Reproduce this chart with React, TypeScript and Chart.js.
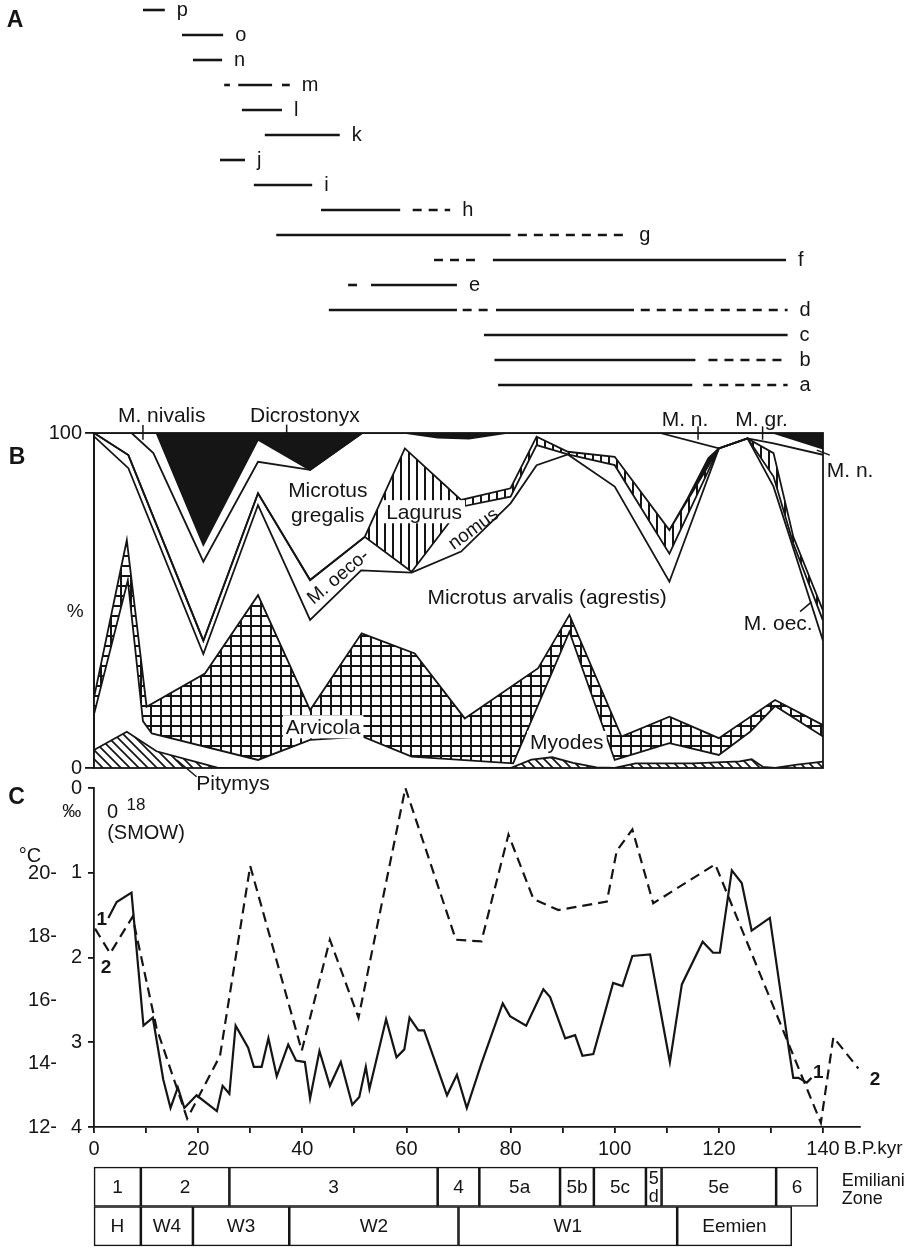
import React, { useEffect, useRef } from 'react';
import { Chart, registerables } from 'chart.js';

Chart.register(...registerables);

const INK = '#151515';
const FONT = '"Liberation Sans", Arial, Helvetica, sans-serif';
Chart.defaults.font.family = FONT;
Chart.defaults.color = INK;

// ================= Panel A : stratigraphic ranges (kyr B.P.) =================
const rangeTaxa = ['p', 'o', 'n', 'm', 'l', 'k', 'j', 'i', 'h', 'g', 'f', 'e', 'd', 'c', 'b', 'a'];
const rangeSolid: number[][][] = [
  [[9.4, 13.6]],
  [[16.9, 24.8]],
  [[19.0, 24.6]],
  [[27.7, 34.2]],
  [[28.4, 36.1]],
  [[32.8, 47.2]],
  [[24.2, 29.0]],
  [[30.7, 41.9]],
  [[43.6, 58.8]],
  [[35.0, 80.0]],
  [[76.6, 132.9]],
  [[53.2, 69.7]],
  [[45.1, 69.7], [77.2, 103.7]],
  [[74.9, 133.2]],
  [[76.9, 115.5]],
  [[77.6, 114.9]],
];
const rangeDashed: number[][][] = [
  [], [], [],
  [[25.0, 26.1], [36.1, 37.6]],
  [], [], [], [],
  [[61.2, 68.4]],
  [[81.4, 102.4]],
  [[65.3, 74.5]],
  [[48.8, 50.5]],
  [[70.8, 75.9], [105.0, 133.2]],
  [],
  [[118.0, 133.2]],
  [[117.0, 133.2]],
];

// ================= Panel B : cumulative percentage boundaries =================
const smallVoleAge = [0, 6.3, 12, 21, 24, 80, 84, 88, 92, 96.5, 100, 104, 115, 124, 126.3, 128.5, 130.8, 135, 140];
const smallVoleTop = [5.4, 10.8, 5, 1.2, 0, 0, 2.5, 3.2, 1.5, 0.2, 0, 1.4, 1.4, 2.0, 2.6, 0.3, 0, 1.0, 1.9];
const arvicolaBaseAge = [0, 6.5, 9.4, 11.1, 31.5, 41.5, 51.5, 61, 80.5, 91.3, 100, 110.5, 120, 126, 130.8, 140];
const arvicolaBase = [16, 56, 14, 10.3, 2.4, 8.4, 9.4, 3.4, 1.4, 40.7, 2.4, 7.4, 3.9, 10.8, 18.5, 9.4];
const arvicolaTopAge = [0, 6.3, 10.1, 21.3, 31.5, 41.5, 51.4, 61.6, 71.2, 85.3, 91.3, 101.3, 110.5, 120, 130.8, 140];
const arvicolaTop = [21, 68, 18.3, 28.2, 51.6, 17.3, 40.2, 34.2, 14.8, 29.8, 45.7, 9.4, 15.3, 8.9, 20.3, 12.8];
const arvalisTopAge = [0, 6.6, 21, 31.5, 41.5, 51.3, 61, 70.5, 80, 85, 91, 100, 110.5, 120, 125.5, 130.5, 140];
const arvalisTop = [99, 89.5, 34, 78.5, 44.2, 59, 58.3, 64.6, 79, 90.4, 93.6, 84, 55.6, 95.4, 98.4, 84, 38];
const oeconomusTopAge = [0, 6.6, 21, 31.5, 41.5, 52, 61, 70.5, 80, 85, 91, 100, 110.5, 120, 125.5, 130.5, 134.3, 140];
const oeconomusTop = [100, 93.4, 38, 82, 56.1, 69, 58.6, 78, 81, 96.4, 93.6, 90.4, 64, 95.4, 98.4, 87, 67, 44];
const lagurusTopAge = [0, 6.6, 21, 31.5, 41.5, 52, 59.7, 70.5, 80, 85, 91, 100, 110.5, 120, 125.5, 130.5, 134.3, 140];
const lagurusTop = [100, 93.4, 38, 82, 56.1, 69, 95.4, 80, 83.5, 98.9, 94.4, 92.9, 71, 95.4, 98.4, 94, 69, 47];
const sliverAge = [110.5, 114, 118, 120];
const sliverTop = [71, 80.5, 92.5, 95.4];
const gregalisTopAge = [0, 7.2, 11.4, 21, 31.5, 41.5, 51.5, 108.7, 120, 125.5, 130.5, 140];
const gregalisTop = [100, 100, 94, 61.6, 91.4, 89, 100, 100, 95.4, 98.4, 96.9, 93.5];
const dicroBaseAge = [0, 12, 21, 31.5, 41.5, 51.5, 60, 66, 72, 79, 130.5, 140];
const dicroBase = [100, 100, 66.6, 98, 89, 100, 100, 98.6, 98.3, 100, 100, 95.3];

const bTickValues = [0, 100];

// ================= Panel C : curves =================
const tempAge = [2.75, 4.35, 7.2, 9.5, 11.3, 13.3, 14.7, 16.1, 17.35, 19.7, 23.6, 24.7, 26.0, 27.2, 29.6, 30.7, 32.2, 33.5, 35.1, 37.3, 38.8, 40.5, 41.5, 43.3, 45.3, 47.4, 49.6, 50.95, 52.2, 52.9, 56.1, 58.1, 59.6, 60.6, 62.3, 63.4, 67.8, 69.7, 71.6, 74.4, 78.5, 79.9, 83.0, 86.3, 87.6, 90.5, 92.4, 93.8, 95.9, 99.7, 101.5, 103.4, 106.8, 110.6, 112.9, 116.9, 118.9, 120.2, 122.5, 124.4, 126.3, 129.8, 133.5, 134.3, 135.3, 136.9, 137.8];
const tempC = [18.6, 19.1, 19.4, 15.2, 15.45, 13.5, 12.6, 13.25, 12.6, 13.0, 12.5, 13.3, 13.05, 15.2, 14.5, 13.9, 13.9, 14.8, 13.6, 14.6, 14.1, 14.05, 12.9, 14.4, 13.3, 14.05, 12.7, 12.95, 13.9, 13.2, 15.4, 14.2, 14.45, 15.45, 15.05, 15.05, 13.0, 13.65, 12.6, 14.0, 15.9, 15.5, 15.2, 16.35, 16.1, 14.8, 14.9, 14.25, 14.3, 16.55, 16.45, 17.4, 17.45, 14.05, 16.5, 17.85, 17.5, 17.5, 20.1, 19.7, 18.2, 18.6, 14.4, 13.55, 13.55, 13.4, 13.55];
const isoAge = [0.2, 3.1, 7.4, 12.0, 17.9, 24.2, 30.0, 39.9, 45.3, 50.8, 59.8, 69.5, 74.4, 79.6, 84.4, 89.2, 98.5, 100.4, 103.4, 107.4, 119.3, 139.6, 142.0, 146.8];
const isoVal = [1.66, 1.95, 1.52, 2.83, 3.9, 3.16, 0.92, 3.10, 1.79, 2.71, 0.0, 1.79, 1.81, 0.55, 1.31, 1.44, 1.34, 0.74, 0.49, 1.36, 0.9, 3.95, 2.94, 3.31];

const ageTicks = [0, 10, 20, 30, 40, 50, 60, 70, 80, 90, 100, 110, 120, 130, 140];
const ageTickLabels = ['0', '', '20', '', '40', '', '60', '', '80', '', '100', '', '120', '', '140'];
const isoTicks = [0, 1, 2, 3, 4];
const isoTickLabels = ['0', '1', '2', '3', '4'];
const tempTicks = [12, 14, 16, 18, 20];
const tempTickLabels = ['12-', '14-', '16-', '18-', '20-'];

// ================= Zone table =================
const stageNames = ['1', '2', '3', '4', '5a', '5b', '5c', '5d', '5e', '6'];
const stageStart = [0, 9, 26, 66, 74, 89.5, 96, 106, 109, 131];
const stageEnd = [9, 26, 66, 74, 89.5, 96, 106, 109, 131, 139];
const periodNames = ['H', 'W4', 'W3', 'W2', 'W1', 'Eemien'];
const periodStart = [0, 9, 19, 37.5, 70, 112];
const periodEnd = [9, 19, 37.5, 70, 112, 134];

// ================= annotations (text, placed in data units) =================
const bLabels: any[] = [
  { t: 'M. nivalis', x: 13.0, y: 105.4 },
  { t: 'Dicrostonyx', x: 40.5, y: 105.4 },
  { t: 'Microtus', x: 44.9, y: 83 },
  { t: 'gregalis', x: 44.9, y: 75.5 },
  { t: 'Lagurus', x: 63.4, y: 76.5, box: true },
  { t: 'M. oeco-', x: 46.8, y: 57.2, rot: -40, size: 19 },
  { t: 'nomus', x: 72.8, y: 71.5, rot: -36, size: 19 },
  { t: 'Microtus arvalis (agrestis)', x: 87, y: 51 },
  { t: 'Arvicola', x: 44, y: 12.3, box: true },
  { t: 'Pitymys', x: 26.7, y: -4.4 },
  { t: 'Myodes', x: 90.8, y: 7.6, box: true },
  { t: 'M. n.', x: 113.5, y: 104 },
  { t: 'M. gr.', x: 128.2, y: 104 },
  { t: 'M. n.', x: 145.2, y: 89 },
  { t: 'M. oec.', x: 131.4, y: 43.3 },
  { t: '%', x: -3.6, y: 47, size: 19 },
  { t: 'B', x: -14.8, y: 93, size: 23, bold: true },
];
const bPointers = [
  [9.4, 98, 9.4, 102.4],
  [37.0, 98.5, 37.0, 102.5],
  [116.0, 98, 116.0, 102],
  [128.4, 98, 128.4, 102],
  [15.9, 2.4, 19.7, -2.6],
  [138.8, 94.9, 141.3, 93.4],
  [135.6, 46.7, 137.8, 49.6],
];
const cLabels: any[] = [
  { t: 'C', x: -14.85, y: 0.1, size: 23, bold: true },
  { t: '‰', x: -4.28, y: 0.27, size: 19 },
  { t: '0', x: 3.55, y: 0.275, size: 20 },
  { t: '18', x: 8.07, y: 0.187, size: 17 },
  { t: '(SMOW)', x: 9.99, y: 0.526, size: 20 },
  { t: '°C', x: -12.3, y: 0.8, size: 20 },
  { t: '1', x: 1.48, y: 1.54, size: 19, bold: true },
  { t: '2', x: 2.3, y: 2.105, size: 19, bold: true },
  { t: '1', x: 139.1, y: 3.353, size: 19, bold: true },
  { t: '2', x: 150.0, y: 3.43, size: 19, bold: true },
  { t: 'B.P.kyr', x: 144.0, y: 4.246, size: 19, align: 'left' },
];

// ================= helpers =================
function text(ctx: CanvasRenderingContext2D, s: string, x: number, y: number, size: number, o: any = {}) {
  ctx.save();
  ctx.font = `${o.bold ? 'bold ' : ''}${size}px ${FONT}`;
  ctx.textAlign = o.align || 'center';
  ctx.textBaseline = 'middle';
  ctx.translate(x, y);
  if (o.rot) ctx.rotate((o.rot * Math.PI) / 180);
  if (o.box) {
    const w = ctx.measureText(s).width;
    ctx.fillStyle = '#fff';
    ctx.fillRect(-w / 2 - 3, -size * 0.55, w + 6, size * 1.1);
  }
  ctx.fillStyle = INK;
  ctx.fillText(s, 0, 1);
  ctx.restore();
}

function stroke(ctx: CanvasRenderingContext2D, x1: number, y1: number, x2: number, y2: number, w = 1.6) {
  ctx.save();
  ctx.strokeStyle = INK;
  ctx.lineWidth = w;
  ctx.beginPath();
  ctx.moveTo(x1, y1);
  ctx.lineTo(x2, y2);
  ctx.stroke();
  ctx.restore();
}

function pattern(kind: string): CanvasPattern {
  const c = document.createElement('canvas');
  const size = kind === 'grid' ? 10 : kind === 'hatch' ? 9 : 8;
  c.width = size;
  c.height = size;
  const g = c.getContext('2d')!;
  g.fillStyle = '#fff';
  g.fillRect(0, 0, size, size);
  g.fillStyle = INK;
  g.strokeStyle = INK;
  if (kind === 'grid') {
    g.fillRect(0, 0, size, 2);
    g.fillRect(0, 0, 2, size);
  } else if (kind === 'stripe') {
    g.fillRect(0, 0, 2, size);
  } else {
    g.lineWidth = 1.7;
    g.beginPath();
    g.moveTo(-2, -2);
    g.lineTo(size + 2, size + 2);
    g.moveTo(-2, size - 2);
    g.lineTo(2, size + 2);
    g.moveTo(size - 2, -2);
    g.lineTo(size + 2, 2);
    g.stroke();
  }
  return g.createPattern(c, 'repeat')!;
}

const pts = (xs: number[], ys: number[]) => xs.map((x, i) => ({ x, y: ys[i] }));

const baseOptions = (padding: any) => ({
  responsive: false,
  maintainAspectRatio: false,
  animation: false,
  devicePixelRatio: 1,
  events: [],
  layout: { padding },
  plugins: { legend: { display: false }, tooltip: { enabled: false } },
});

// ================= chart factories =================
function makeA() {
  const datasets: any[] = [];
  const seg = (t: string, s: number, e: number, dash: number[]) => ({
    data: [{ x: s, y: t }, { x: e, y: t }],
    borderColor: INK,
    borderWidth: 2.6,
    borderDash: dash,
    pointRadius: 0,
    fill: false,
    clip: false,
  });
  rangeTaxa.forEach((t, i) => {
    rangeSolid[i].forEach(([s, e]) => datasets.push(seg(t, s, e, [])));
    rangeDashed[i].forEach(([s, e]) => datasets.push(seg(t, s, e, [9, 7])));
  });
  const labelPlugin = {
    id: 'rangeLabels',
    afterDatasetsDraw(chart: any) {
      const { ctx, scales } = chart;
      rangeTaxa.forEach((t, i) => {
        const ends = [...rangeSolid[i], ...rangeDashed[i]].map((r) => r[1]);
        const end = Math.max(...ends);
        text(ctx, t, scales.x.getPixelForValue(end) + 12, scales.y.getPixelForValue(i) - 1, 20, { align: 'left' });
      });
      text(ctx, 'A', 15, 20, 23, { bold: true });
    },
  };
  return {
    type: 'line',
    data: { datasets },
    options: {
      ...baseOptions({ left: 94, right: 96, top: 10, bottom: 15 }),
      scales: {
        x: { type: 'linear', min: 0, max: 140, display: false },
        y: { type: 'category', labels: rangeTaxa, offset: false, display: false },
      },
    },
    plugins: [labelPlugin],
  };
}

function makeB() {
  const grid = pattern('grid');
  const hatch = pattern('hatch');
  const stripe = pattern('stripe');
  const L = (xs: number[], ys: number[], extra: any = {}) => ({
    data: pts(xs, ys),
    borderColor: INK,
    borderWidth: 1.8,
    pointRadius: 0,
    tension: 0,
    fill: false,
    ...extra,
  });
  const plugin = {
    id: 'bDecor',
    afterDatasetsDraw(chart: any) {
      const { ctx, chartArea: a, scales } = chart;
      const X = (v: number) => scales.x.getPixelForValue(v);
      const Y = (v: number) => scales.y.getPixelForValue(v);
      ctx.save();
      ctx.strokeStyle = INK;
      ctx.lineWidth = 1.8;
      ctx.strokeRect(a.left, a.top, a.right - a.left, a.bottom - a.top);
      ctx.restore();
      bPointers.forEach(([x1, y1, x2, y2]) => stroke(ctx, X(x1), Y(y1), X(x2), Y(y2), 1.5));
      bLabels.forEach((l) => text(ctx, l.t, X(l.x), Y(l.y), l.size || 21, l));
    },
  };
  return {
    type: 'line',
    data: {
      datasets: [
        L(smallVoleAge, smallVoleTop, { fill: 'origin', backgroundColor: hatch }),
        L(arvicolaBaseAge, arvicolaBase),
        L(arvicolaTopAge, arvicolaTop, { fill: '-1', backgroundColor: grid }),
        L(arvalisTopAge, arvalisTop),
        L(oeconomusTopAge, oeconomusTop),
        L(lagurusTopAge, lagurusTop, { fill: '-1', backgroundColor: stripe }),
        L(sliverAge, sliverTop, { fill: '-1', backgroundColor: INK }),
        L(gregalisTopAge, gregalisTop),
        L(dicroBaseAge, dicroBase, { fill: 'end', backgroundColor: INK }),
      ],
    },
    options: {
      ...baseOptions({ left: 0, right: 96, top: 38, bottom: 32 }),
      scales: {
        x: { type: 'linear', min: 0, max: 140, display: false },
        y: {
          type: 'linear',
          min: 0,
          max: 100,
          position: 'left',
          afterFit: (s: any) => { s.width = 94; },
          afterBuildTicks: (s: any) => { s.ticks = bTickValues.map((value) => ({ value })); },
          ticks: { font: { size: 20 }, padding: 3, color: INK },
          grid: { drawOnChartArea: false, tickLength: 9, color: INK, lineWidth: 1.8 },
          border: { display: true, color: INK, width: 1.8 },
        },
      },
    },
    plugins: [plugin],
  };
}

function makeC() {
  const plugin = {
    id: 'cDecor',
    afterDatasetsDraw(chart: any) {
      const { ctx, scales } = chart;
      cLabels.forEach((l) => text(ctx, l.t, scales.x.getPixelForValue(l.x), scales.yO.getPixelForValue(l.y), l.size, l));
    },
  };
  return {
    type: 'line',
    data: {
      datasets: [
        { data: pts(tempAge, tempC), yAxisID: 'yT', borderColor: INK, borderWidth: 2.2, pointRadius: 0, tension: 0, fill: false },
        { data: pts(isoAge, isoVal), yAxisID: 'yO', borderColor: INK, borderWidth: 2.2, borderDash: [10, 6], pointRadius: 0, tension: 0, fill: false },
      ],
    },
    options: {
      ...baseOptions({ left: 0, right: 59.6, top: 15, bottom: 5 }),
      scales: {
        x: {
          type: 'linear',
          min: 0,
          max: 147,
          afterBuildTicks: (s: any) => { s.ticks = ageTicks.map((value) => ({ value })); },
          afterFit: (s: any) => { s.height = 28; },
          ticks: { callback: (_v: any, i: number) => ageTickLabels[i], font: { size: 20 }, padding: 4, maxRotation: 0, autoSkip: false, color: INK },
          grid: { drawOnChartArea: false, tickLength: 6, color: INK, lineWidth: 1.8 },
          border: { color: INK, width: 1.8 },
        },
        yO: {
          type: 'linear',
          position: 'left',
          reverse: true,
          min: 0,
          max: 4,
          weight: 0,
          afterBuildTicks: (s: any) => { s.ticks = isoTicks.map((value) => ({ value })); },
          afterFit: (s: any) => { s.width = 34; },
          ticks: { callback: (_v: any, i: number) => isoTickLabels[i], font: { size: 20 }, padding: 6, color: INK },
          grid: { drawOnChartArea: false, tickLength: 6, color: INK, lineWidth: 1.8 },
          border: { color: INK, width: 1.8 },
        },
        yT: {
          type: 'linear',
          position: 'left',
          min: 12,
          max: 22.7,
          weight: 1,
          afterBuildTicks: (s: any) => { s.ticks = tempTicks.map((value) => ({ value })); },
          afterFit: (s: any) => { s.width = 60; },
          ticks: { callback: (_v: any, i: number) => tempTickLabels[i], font: { size: 20 }, padding: 3, color: INK },
          grid: { display: false, drawTicks: false },
          border: { display: false },
        },
      },
    },
    plugins: [plugin],
  };
}

function makeTable() {
  const names = [...stageNames, ...periodNames];
  const cells = [
    ...stageNames.map((_n, i) => ({ x: [stageStart[i], stageEnd[i]], y: 'stage' })),
    ...periodNames.map((_n, i) => ({ x: [periodStart[i], periodEnd[i]], y: 'period' })),
  ];
  const plugin = {
    id: 'tableText',
    afterDatasetsDraw(chart: any) {
      const { ctx, scales } = chart;
      const meta = chart.getDatasetMeta(0);
      meta.data.forEach((el: any, i: number) => {
        const cx = (el.x + el.base) / 2;
        const cy = el.y;
        const n = names[i];
        if (n === '5d') {
          text(ctx, '5', cx, cy - 9, 18);
          text(ctx, 'd', cx, cy + 9, 18);
        } else {
          text(ctx, n, cx, cy, 19);
        }
      });
      const y0 = meta.data[0].y;
      const xl = scales.x.getPixelForValue(143.6);
      text(ctx, 'Emiliani', xl, y0 - 7, 18, { align: 'left' });
      text(ctx, 'Zone', xl, y0 + 11, 18, { align: 'left' });
    },
  };
  return {
    type: 'bar',
    data: {
      labels: ['stage', 'period'],
      datasets: [
        {
          data: cells,
          backgroundColor: '#fff',
          borderColor: INK,
          borderWidth: 1.6,
          borderSkipped: false,
          barPercentage: 1,
          categoryPercentage: 1,
          clip: false,
        },
      ],
    },
    options: {
      ...baseOptions({ left: 94, right: 96, top: 7, bottom: 3 }),
      indexAxis: 'y',
      scales: {
        x: { type: 'linear', min: 0, max: 140, display: false },
        y: { type: 'category', display: false, offset: true },
      },
    },
    plugins: [plugin],
  };
}

function ChartBox({ top, height, make }: { top: number; height: number; make: () => any }) {
  const ref = useRef<HTMLCanvasElement>(null);
  useEffect(() => {
    const chart = new Chart(ref.current as HTMLCanvasElement, make());
    return () => chart.destroy();
  }, [make]);
  return (
    <canvas
      ref={ref}
      width={919}
      height={height}
      style={{ position: 'absolute', left: 0, top, width: 919, height, display: 'block' }}
    />
  );
}

export default function App() {
  return (
    <div style={{ position: 'absolute', left: 0, top: 0, width: 919, height: 1249, background: '#fff', overflow: 'hidden' }}>
      <ChartBox top={0} height={400} make={makeA} />
      <ChartBox top={395} height={405} make={makeB} />
      <ChartBox top={770} height={390} make={makeC} />
      <ChartBox top={1160} height={89} make={makeTable} />
    </div>
  );
}
